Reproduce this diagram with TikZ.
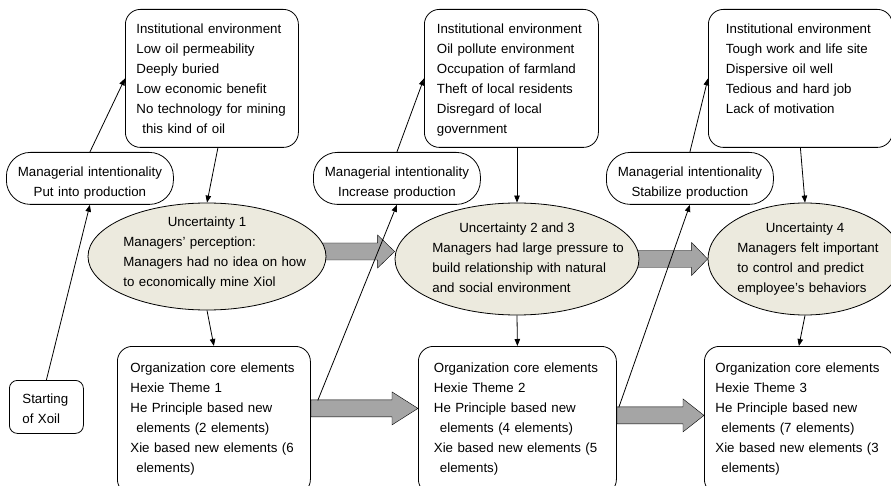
\documentclass[tikz,border=0pt]{standalone}
\usepackage{fontspec}
\setmainfont{Liberation Sans}
\usepackage{tikz}
\usetikzlibrary{arrows.meta, shapes.geometric, calc, backgrounds}

\definecolor{uncfill}{RGB}{236,234,222}
\definecolor{fatgray}{RGB}{165,165,165}

% small indent for wrapped lines
\newcommand{\ind}{\hspace*{6pt}}
% broad arrow: start point, tip point, head length
\newcommand{\fatarrow}[3]{%
  \draw[fatarr] let \p1=#1, \p2=#2 in
    (\x1,\y1+8.5pt) -- (\x2-#3,\y1+8.5pt) -- (\x2-#3,\y1+16.5pt) -- (\x2,\y1)
    -- (\x2-#3,\y1-16.5pt) -- (\x2-#3,\y1-8.5pt) -- (\x1,\y1-8.5pt) -- cycle;}

\begin{document}
\begin{tikzpicture}[x=1pt, y=-1pt, line width=0.8pt,
    font=\fontsize{13.3}{20}\selectfont,
    envbox/.style={draw, fill=white, rounded corners=15pt, align=left, anchor=north west,
      text width=149pt, inner ysep=0pt, text height=24pt, text depth=114pt},
    intbox/.style={draw, fill=white, rounded corners=24pt, align=center, anchor=north west,
      text width=152pt, inner xsep=7.5pt, inner ysep=0pt, text height=24.5pt, text depth=27.5pt},
    unc/.style={draw, ellipse, fill=uncfill, inner sep=0pt, text height=0pt},
    unctext/.style={anchor=base west, inner sep=0pt, align=left, text width=220pt},
    corebox/.style={draw, fill=white, rounded corners=15pt, align=left, anchor=north west,
      text width=167pt, inner ysep=0pt, text height=26.5pt, text depth=121.5pt},
    startbox/.style={draw, fill=white, rounded corners=8pt, align=left, anchor=north west,
      text width=48pt, inner xsep=13pt, inner ysep=0pt, text height=23.5pt, text depth=29.5pt},
    link/.style={-{Triangle[length=7pt, width=5.5pt]}},
    fatarr/.style={draw, fill=fatgray}]

    \useasboundingbox (0,0) rectangle (891,486);

    % Institutional environment
    \node[envbox, text width=151pt, inner xsep=11pt] (t1) at (125,9)
        {Institutional environment\\ Low oil permeability\\ Deeply buried\\
         Low economic benefit\\ No technology for mining\\ \ind this kind of oil};
    \node[envbox, inner xsep=12.5pt] (t2) at (424,9)
        {Institutional environment\\ Oil pollute environment\\ Occupation of farmland\\
         Theft of local residents\\ Disregard of local\\ government};
    \node[envbox, inner xsep=17.5pt] (t3) at (708,9)
        {Institutional environment\\ Tough work and life site\\ Dispersive oil well\\
         Tedious and hard job\\ Lack of motivation};

    % Managerial intentionality
    \node[intbox] (m1) at (6,152) {Managerial intentionality\\ Put into production};
    \node[intbox] (m2) at (313,152) {Managerial intentionality\\ Increase production};
    \node[intbox] (m3) at (606,152) {Managerial intentionality\\ Stabilize production};

    % Uncertainties
    \node[unc, minimum width=238pt, minimum height=107pt, text depth=60pt] (e1)
        at (207,256.5) {Uncertainty 1};
    \node[unc, minimum width=244pt, minimum height=112pt, text depth=53pt] (e2)
        at (517,259) {Uncertainty 2 and 3};
    \node[unc, minimum width=194pt, minimum height=112pt, text depth=53pt] (e3)
        at (805,259) {Uncertainty 4};
    \node[unctext] (e1t) at (123,247)
        {Managers' perception:\\ Managers had no idea on how\\ to economically mine Xiol};
    \node[unctext] (e2t) at (432,252.5)
        {Managers had large pressure to\\ build relationship with natural\\ and social environment};
    \node[unctext] (e3t) at (737,252.5)
        {Managers felt important\\ to control and predict\\ employee's behaviors};

    % Organization core elements
    \node[corebox, inner xsep=13pt] (b1) at (117,346)
        {Organization core elements\\ Hexie Theme 1\\ He Principle based new\\
         \ind elements (2 elements)\\ Xie based new elements (6\\ \ind elements)};
    \node[corebox, inner xsep=15.5pt] (b2) at (418,346)
        {Organization core elements\\ Hexie Theme 2\\ He Principle based new\\
         \ind elements (4 elements)\\ Xie based new elements (5\\ \ind elements)};
    \node[corebox, inner xsep=11pt] (b3) at (704,346)
        {Organization core elements\\ Hexie Theme 3\\ He Principle based new\\
         \ind elements (7 elements)\\ Xie based new elements (3\\ \ind elements)};

    \node[startbox] (start) at (9,380) {Starting\\ of Xoil};

    % Broad arrows between stages
    \begin{scope}[on background layer]
        \fatarrow{($(e1.east)+(-6,-5)$)}{(e2.west)}{17pt}
        \fatarrow{($(e2.east)+(-6,0)$)}{(e3.west)}{16pt}
        \fatarrow{($(b1.east)+(0,-12)$)}{(b2.west)}{26pt}
        \fatarrow{($(b2.east)+(0,-5)$)}{(b3.west)}{21pt}
    \end{scope}

    % Links
    \draw[link] (start.north) -- (m1.south);
    \draw[link] (m1.north) -- (t1.west);
    \draw[link] ([xshift=6pt]t1.south) -- (e1.north);
    \draw[link] (e1.south) -- (b1.north);
    \draw[link] ($(b1.east)+(7,-20)$) -- (m2.south);
    \draw[link] (m2.north) -- (t2.west);
    \draw[link] (t2.south -| e2.north) -- (e2.north);
    \draw[link] (e2.south) -- (b2.north);
    \draw[link] ($(b2.east)+(2,-13)$) -- (m3.south);
    \draw[link] (m3.north) -- (t3.west);
    \draw[link] (t3.south) -- (e3.north);
    \draw[link] (e3.south) -- (b3.north);
\end{tikzpicture}
\end{document}
